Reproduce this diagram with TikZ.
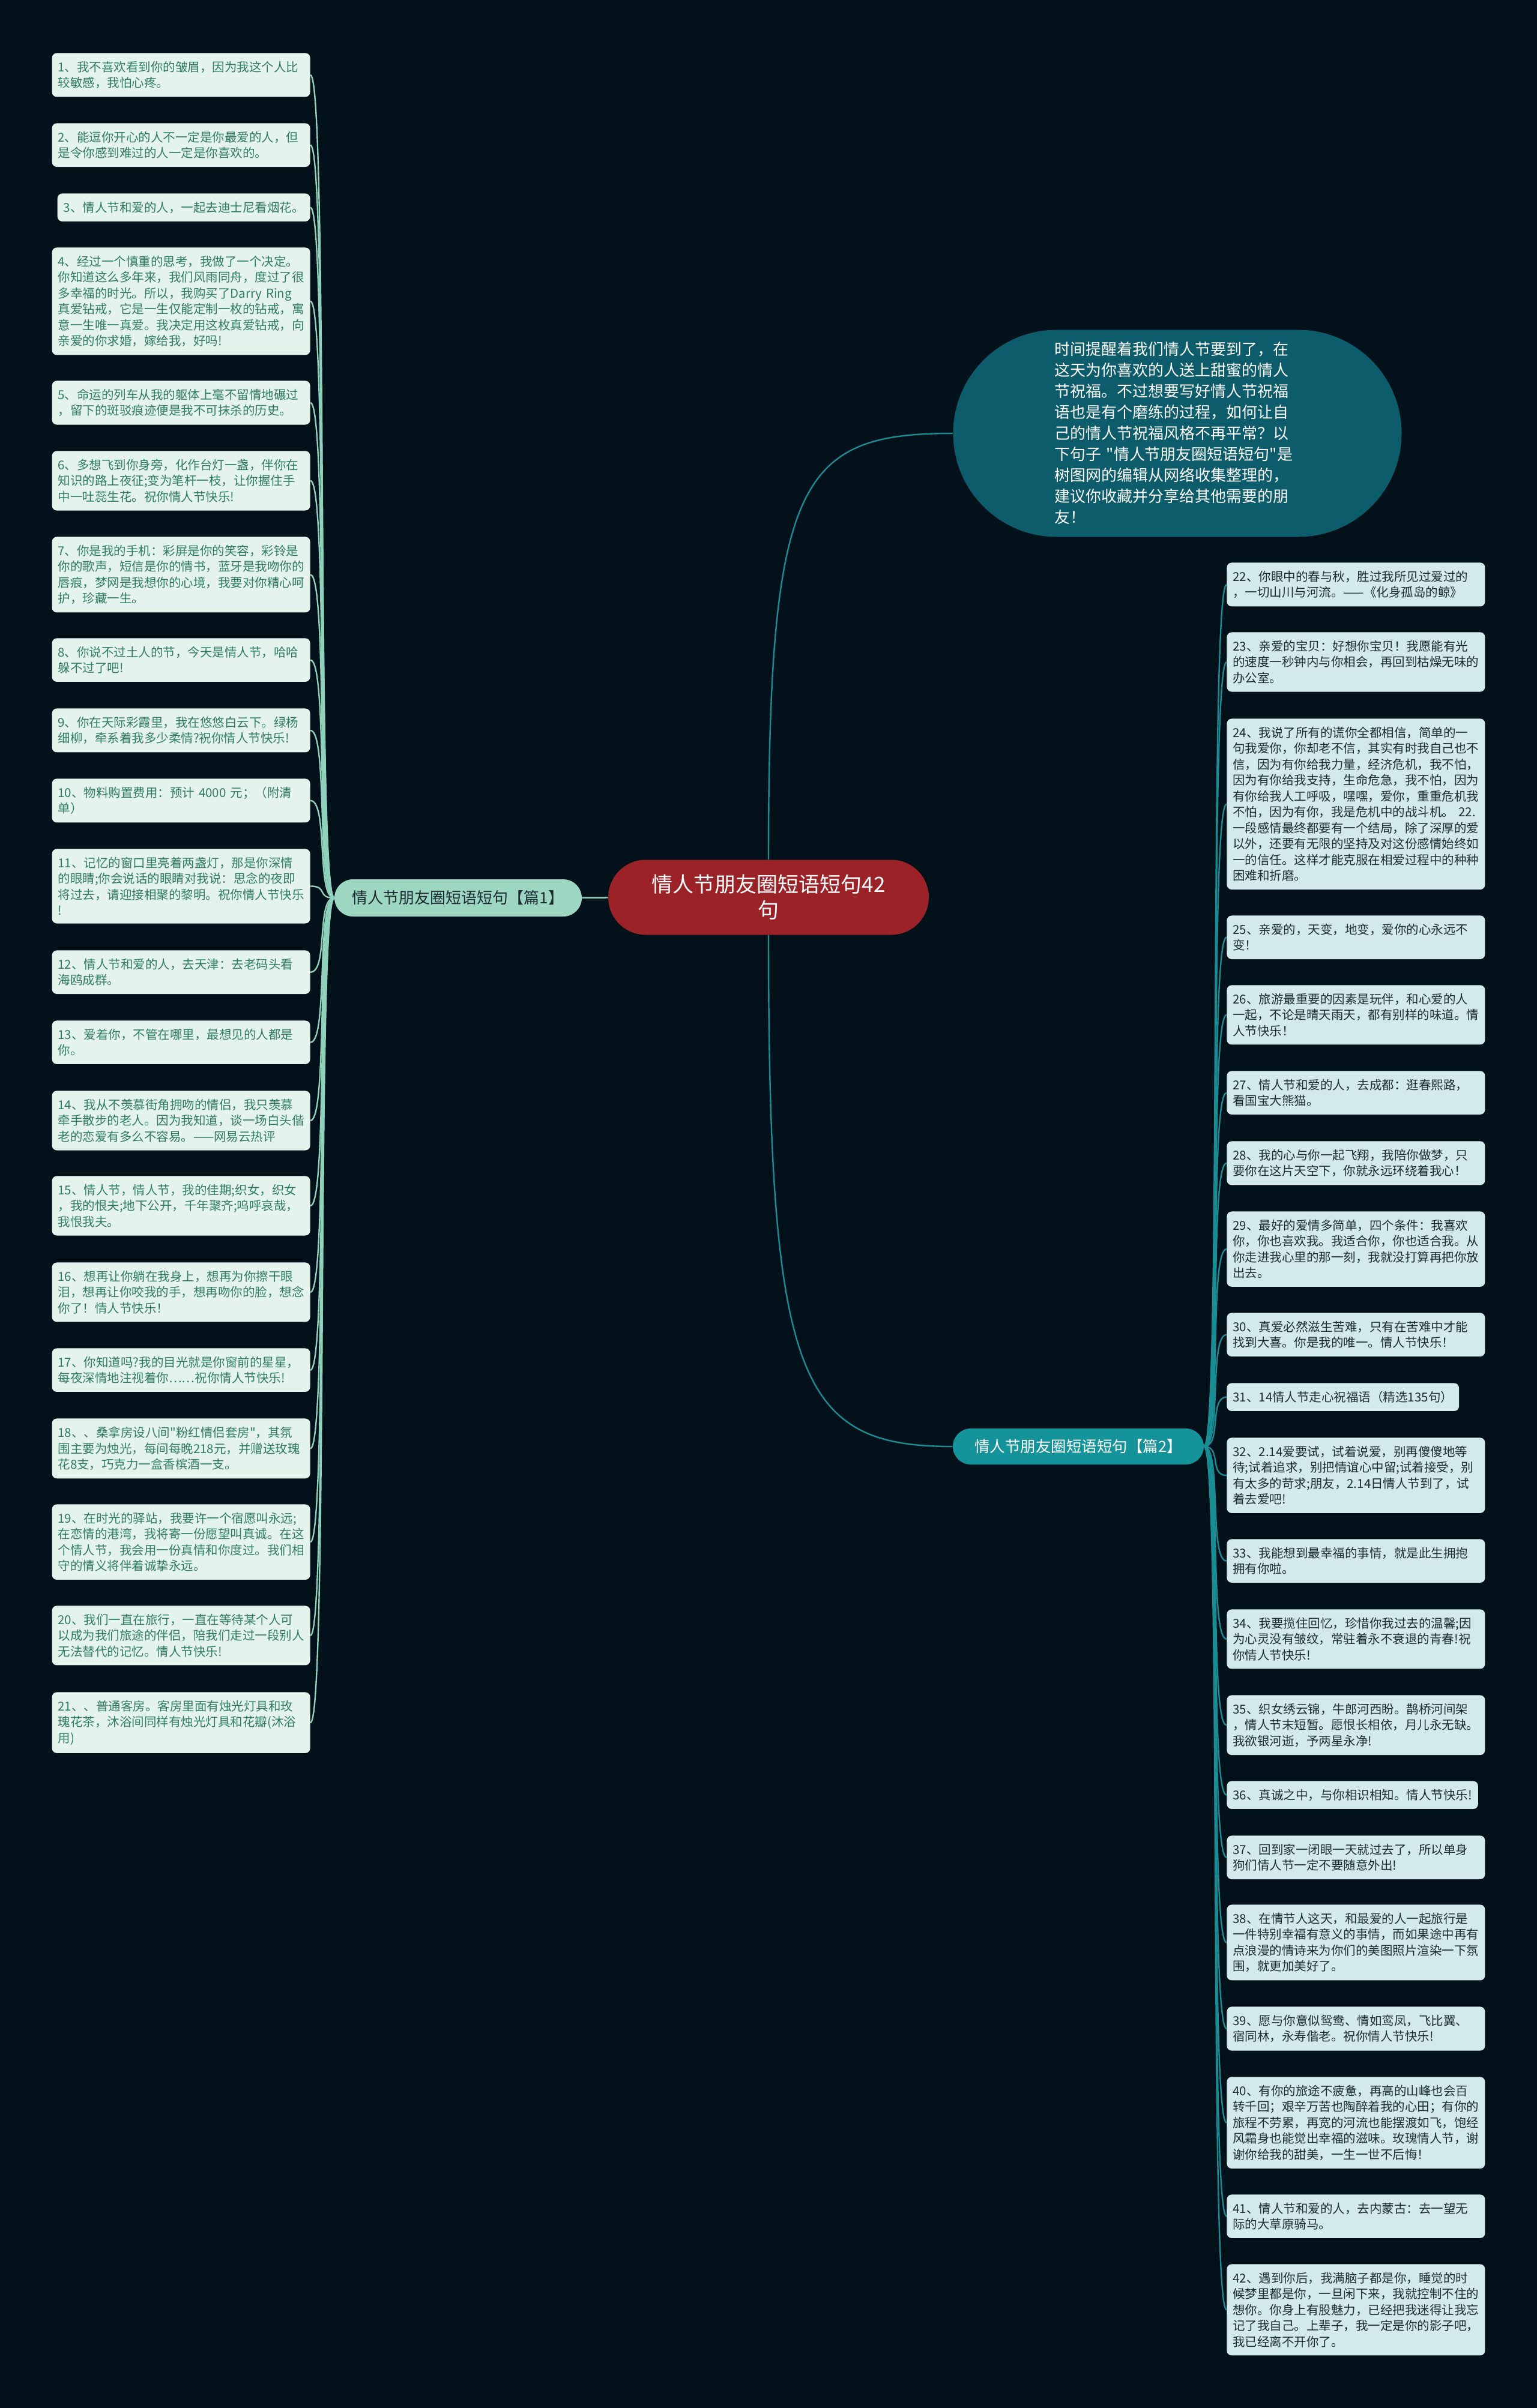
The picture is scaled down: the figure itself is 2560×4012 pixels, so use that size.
\documentclass[tikz,border=0pt]{standalone}
\usepackage{fontspec}
\setmainfont{Noto Sans CJK SC}
\newfontfamily\cjkplain{Noto Sans CJK SC}
\usetikzlibrary{shapes.misc}
\definecolor{bgdark}{RGB}{3,17,26}
\definecolor{rootred}{RGB}{155,35,40}
\definecolor{introteal}{RGB}{12,92,108}
\definecolor{partAfill}{RGB}{157,214,193}
\definecolor{partBfill}{RGB}{21,147,154}
\definecolor{leafAfill}{RGB}{229,243,237}
\definecolor{leafAtext}{RGB}{47,125,94}
\definecolor{leafBfill}{RGB}{210,234,236}
\definecolor{leafBtext}{RGB}{28,44,50}
\definecolor{linkAcol}{RGB}{143,209,186}
\definecolor{linkBcol}{RGB}{26,140,148}

\begin{document}
\begin{tikzpicture}[x=0.5pt, y=-0.5pt,
  leafbase/.style={rounded corners=4pt, inner xsep=5pt, inner ysep=6.75pt,
    align=left, font=\cjkplain\fontsize{10.25}{13.25}\selectfont},
  leafA/.style={leafbase, fill=leafAfill, text=leafAtext, anchor=north east},
  leafB/.style={leafbase, fill=leafBfill, text=leafBtext, anchor=north west},
  wideA/.style={leafA, text width=205pt},
  wideB/.style={leafB, text width=205pt},
  pill/.style={rounded rectangle, inner sep=0pt, align=center},
  linkA/.style={draw=linkAcol, line width=1.2pt},
  linkB/.style={draw=linkBcol, line width=1.2pt}]

\fill[bgdark] (0,0) rectangle (2560,4012);
\useasboundingbox (0,0) rectangle (2560,4012);

% Main nodes
\node[pill, fill=rootred, text=white, minimum width=267pt, minimum height=62.5pt,
  font=\fontsize{17.5}{21.5}\selectfont] (root) at (1280,1495) {情人节朋友圈短语短句42\\句};
\node[pill, fill=introteal, text=white, minimum width=373.5pt, minimum height=172.5pt,
  text width=205pt, align=left, font=\cjkplain\fontsize{13}{17.5}\selectfont] (intro) at (1961,722)
  {时间提醒着我们情人节要到了，在\\这天为你喜欢的人送上甜蜜的情人\\节祝福。不过想要写好情人节祝福\\语也是有个磨练的过程，如何让自\\己的情人节祝福风格不再平常？以\\下句子~"情人节朋友圈短语短句"是\\树图网的编辑从网络收集整理的，\\建议你收藏并分享给其他需要的朋\\友！};
\node[pill, fill=partAfill, text=leafBtext, minimum width=206pt, minimum height=31pt,
  font=\fontsize{13}{15}\selectfont] (partA) at (763,1496) {情人节朋友圈短语短句【篇1】};
\node[pill, fill=partBfill, text=white, minimum width=209pt, minimum height=30pt,
  font=\fontsize{12.75}{15}\selectfont] (partB) at (1796,2410) {情人节朋友圈短语短句【篇2】};

% Left leaves
\node[wideA] (a1) at (517,88) {1、我不喜欢看到你的皱眉，因为我这个人比\\较敏感，我怕心疼。};
\node[wideA] (a2) at (517,205) {2、能逗你开心的人不一定是你最爱的人，但\\是令你感到难过的人一定是你喜欢的。};
\node[leafA] (a3) at (517,322) {3、情人节和爱的人，一起去迪士尼看烟花。};
\node[wideA] (a4) at (517,412) {4、经过一个慎重的思考，我做了一个决定。\\你知道这么多年来，我们风雨同舟，度过了很\\多幸福的时光。所以，我购买了Darry Ring\\真爱钻戒，它是一生仅能定制一枚的钻戒，寓\\意一生唯一真爱。我决定用这枚真爱钻戒，向\\亲爱的你求婚，嫁给我，好吗!};
\node[wideA] (a5) at (517,634) {5、命运的列车从我的躯体上毫不留情地碾过\\，留下的斑驳痕迹便是我不可抹杀的历史。};
\node[wideA] (a6) at (517,751) {6、多想飞到你身旁，化作台灯一盏，伴你在\\知识的路上夜征;变为笔杆一枝，让你握住手\\中一吐蕊生花。祝你情人节快乐!};
\node[wideA] (a7) at (517,894) {7、你是我的手机：彩屏是你的笑容，彩铃是\\你的歌声，短信是你的情书，蓝牙是我吻你的\\唇痕，梦网是我想你的心境，我要对你精心呵\\护，珍藏一生。};
\node[wideA] (a8) at (517,1063) {8、你说不过土人的节，今天是情人节，哈哈\\躲不过了吧!};
\node[wideA] (a9) at (517,1180) {9、你在天际彩霞里，我在悠悠白云下。绿杨\\细柳，牵系着我多少柔情?祝你情人节快乐!};
\node[wideA] (a10) at (517,1297) {10、物料购置费用：预计 4000 元；（附清\\单）};
\node[wideA] (a11) at (517,1414) {11、记忆的窗口里亮着两盏灯，那是你深情\\的眼睛;你会说话的眼睛对我说：思念的夜即\\将过去，请迎接相聚的黎明。祝你情人节快乐\\!};
\node[wideA] (a12) at (517,1583) {12、情人节和爱的人，去天津：去老码头看\\海鸥成群。};
\node[wideA] (a13) at (517,1700) {13、爱着你，不管在哪里，最想见的人都是\\你。};
\node[wideA] (a14) at (517,1817) {14、我从不羡慕街角拥吻的情侣，我只羡慕\\牵手散步的老人。因为我知道，谈一场白头偕\\老的恋爱有多么不容易。——网易云热评};
\node[wideA] (a15) at (517,1959) {15、情人节，情人节，我的佳期;织女，织女\\，我的恨夫;地下公开，千年聚齐;呜呼哀哉，\\我恨我夫。};
\node[wideA] (a16) at (517,2103) {16、想再让你躺在我身上，想再为你擦干眼\\泪，想再让你咬我的手，想再吻你的脸，想念\\你了！情人节快乐！};
\node[wideA] (a17) at (517,2246) {17、你知道吗?我的目光就是你窗前的星星，\\每夜深情地注视着你……祝你情人节快乐!};
\node[wideA] (a18) at (517,2363) {18、、桑拿房设八间"粉红情侣套房"，其氛\\围主要为烛光，每间每晚218元，并赠送玫瑰\\花8支，巧克力一盒香槟酒一支。};
\node[wideA] (a19) at (517,2506) {19、在时光的驿站，我要许一个宿愿叫永远;\\在恋情的港湾，我将寄一份愿望叫真诚。在这\\个情人节，我会用一份真情和你度过。我们相\\守的情义将伴着诚挚永远。};
\node[wideA] (a20) at (517,2675) {20、我们一直在旅行，一直在等待某个人可\\以成为我们旅途的伴侣，陪我们走过一段别人\\无法替代的记忆。情人节快乐!};
\node[wideA] (a21) at (517,2819) {21、、普通客房。客房里面有烛光灯具和玫\\瑰花茶，沐浴间同样有烛光灯具和花瓣(沐浴\\用)};

% Right leaves
\node[wideB] (b22) at (2043,937) {22、你眼中的春与秋，胜过我所见过爱过的\\，一切山川与河流。——《化身孤岛的鲸》};
\node[wideB] (b23) at (2043,1053) {23、亲爱的宝贝：好想你宝贝！我愿能有光\\的速度一秒钟内与你相会，再回到枯燥无味的\\办公室。};
\node[wideB] (b24) at (2043,1197) {24、我说了所有的谎你全都相信，简单的一\\句我爱你，你却老不信，其实有时我自己也不\\信，因为有你给我力量，经济危机，我不怕，\\因为有你给我支持，生命危急，我不怕，因为\\有你给我人工呼吸，嘿嘿，爱你，重重危机我\\不怕，因为有你，我是危机中的战斗机。 22.\\一段感情最终都要有一个结局，除了深厚的爱\\以外，还要有无限的坚持及对这份感情始终如\\一的信任。这样才能克服在相爱过程中的种种\\困难和折磨。};
\node[wideB] (b25) at (2043,1525) {25、亲爱的，天变，地变，爱你的心永远不\\变！};
\node[wideB] (b26) at (2043,1641) {26、旅游最重要的因素是玩伴，和心爱的人\\一起，不论是晴天雨天，都有别样的味道。情\\人节快乐！};
\node[wideB] (b27) at (2043,1784) {27、情人节和爱的人，去成都：逛春熙路，\\看国宝大熊猫。};
\node[wideB] (b28) at (2043,1901) {28、我的心与你一起飞翔，我陪你做梦，只\\要你在这片天空下，你就永远环绕着我心！};
\node[wideB] (b29) at (2043,2018) {29、最好的爱情多简单，四个条件：我喜欢\\你，你也喜欢我。我适合你，你也适合我。从\\你走进我心里的那一刻，我就没打算再把你放\\出去。};
\node[wideB] (b30) at (2043,2187) {30、真爱必然滋生苦难，只有在苦难中才能\\找到大喜。你是我的唯一。情人节快乐！};
\node[leafB] (b31) at (2043,2304) {31、14情人节走心祝福语（精选135句）};
\node[wideB] (b32) at (2043,2395) {32、2.14爱要试，试着说爱，别再傻傻地等\\待;试着追求，别把情谊心中留;试着接受，别\\有太多的苛求;朋友，2.14日情人节到了，试\\着去爱吧!};
\node[wideB] (b33) at (2043,2564) {33、我能想到最幸福的事情，就是此生拥抱\\拥有你啦。};
\node[wideB] (b34) at (2043,2681) {34、我要揽住回忆，珍惜你我过去的温馨;因\\为心灵没有皱纹，常驻着永不衰退的青春!祝\\你情人节快乐!};
\node[wideB] (b35) at (2043,2824) {35、织女绣云锦，牛郎河西盼。鹊桥河间架\\，情人节末短暂。愿恨长相依，月儿永无缺。\\我欲银河逝，予两星永净!};
\node[leafB] (b36) at (2043,2967) {36、真诚之中，与你相识相知。情人节快乐!};
\node[wideB] (b37) at (2043,3058) {37、回到家一闭眼一天就过去了，所以单身\\狗们情人节一定不要随意外出!};
\node[wideB] (b38) at (2043,3173) {38、在情节人这天，和最爱的人一起旅行是\\一件特别幸福有意义的事情，而如果途中再有\\点浪漫的情诗来为你们的美图照片渲染一下氛\\围，就更加美好了。};
\node[wideB] (b39) at (2043,3343) {39、愿与你意似鸳鸯、情如鸾凤，飞比翼、\\宿同林，永寿偕老。祝你情人节快乐!};
\node[wideB] (b40) at (2043,3460) {40、有你的旅途不疲惫，再高的山峰也会百\\转千回；艰辛万苦也陶醉着我的心田；有你的\\旅程不劳累，再宽的河流也能摆渡如飞，饱经\\风霜身也能觉出幸福的滋味。玫瑰情人节，谢\\谢你给我的甜美，一生一世不后悔！};
\node[wideB] (b41) at (2043,3656) {41、情人节和爱的人，去内蒙古：去一望无\\际的大草原骑马。};
\node[wideB] (b42) at (2043,3772) {42、遇到你后，我满脑子都是你，睡觉的时\\候梦里都是你，一旦闲下来，我就控制不住的\\想你。你身上有股魅力，已经把我迷得让我忘\\记了我自己。上辈子，我一定是你的影子吧，\\我已经离不开你了。};

% Links
\draw[linkA] (root) -- (partA);
\draw[linkB] (root.north) .. controls (1280,800) and (1330,722) .. (intro.west);
\draw[linkB] (root.south) .. controls (1280,2300) and (1330,2410) .. (partB.west);
\foreach \i in {1,...,21}
  \draw[linkA] (partA.west) .. controls +(-30,0) and +(30,0) .. (a\i.east);
\foreach \i in {22,...,42}
  \draw[linkB] (partB.east) .. controls +(30,0) and +(-30,0) .. (b\i.west);

\end{tikzpicture}
\end{document}
